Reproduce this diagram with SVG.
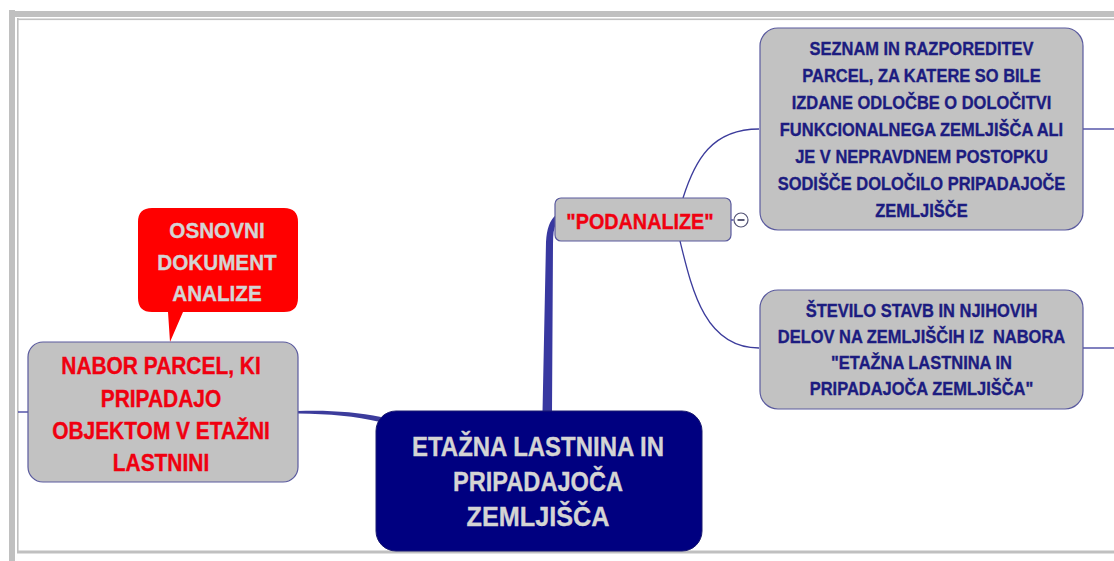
<svg xmlns="http://www.w3.org/2000/svg" width="1114" height="561" viewBox="0 0 1114 561">
<style>
.frame{fill:#c0c0c0}
.gray{fill:#c2c2c2;stroke:#5a5a9e;stroke-width:1.2}
.t{font-family:"Liberation Sans",Arial,sans-serif;font-weight:bold;text-anchor:middle;stroke-width:0.35}
.red{fill:#f00010;stroke:#f00010}
.navy{fill:#1c1c80;stroke:#1c1c80}
.light{fill:#d4d4d4;stroke:#d4d4d4}
.con{fill:none;stroke:#3c3c9c;stroke-width:1.3}
</style>
<rect width="1114" height="561" fill="#ffffff"/>
<g id="frame">
<rect class="frame" x="9" y="10" width="6" height="551"/>
<rect class="frame" x="15" y="11" width="1099" height="6"/>
<rect class="frame" x="17" y="18" width="1.6" height="534"/>
<rect class="frame" x="17" y="18.5" width="1097" height="1.6"/>
<rect class="frame" x="17" y="550.5" width="1097" height="3"/>
</g>
<g id="connectors">
<path class="con" d="M18,412 L28,412"/>
<path d="M298,411 C330,410 356,412 381,417 L380,422 C355,416 330,414 298,413.5 Z" fill="#3c3c9c"/>
<path d="M542.5,412 L546,242 Q547,222 556,215 L556,224 Q553,229 553,244 L552,412 Z" fill="#3838a0"/>
<path class="con" d="M683,198 C695,160 712,129 759,129"/>
<path class="con" d="M680,241 C692,290 705,348 759,348"/>
<path class="con" d="M1083,129 L1114,129"/>
<path class="con" d="M1083,348 L1114,348"/>
<path class="con" d="M731,220 L733.5,220"/>
</g>
<g id="callout">
<path d="M152,208 H284 Q298,208 298,222 V298 Q298,312 284,312 H183 L170,342 L168,312 H152 Q138,312 138,298 V222 Q138,208 152,208 Z" fill="#ff0000"/>
<g transform="matrix(0.94,0,0,1,13.02,0)">
<text class="t light" font-size="22" x="217" y="238">OSNOVNI</text>
<text class="t light" font-size="22" x="217" y="270">DOKUMENT</text>
<text class="t light" font-size="22" x="217" y="301">ANALIZE</text>
</g>
</g>
<g id="nabor">
<rect class="gray" x="28" y="342" width="270" height="140" rx="15"/>
<g transform="matrix(0.91,0,0,1,14.49,0)">
<text class="t red" font-size="23" x="161" y="374">NABOR PARCEL, KI</text>
<text class="t red" font-size="23" x="161" y="407">PRIPADAJO</text>
<text class="t red" font-size="23" x="161" y="439">OBJEKTOM V ETAŽNI</text>
<text class="t red" font-size="23" x="161" y="471">LASTNINI</text>
</g>
</g>
<g id="central">
<rect x="376" y="411" width="326" height="140" rx="20" fill="#000080" stroke="#1a1a70" stroke-width="1"/>
<text class="t light" font-size="27" x="538" y="456" textLength="252" lengthAdjust="spacingAndGlyphs">ETAŽNA LASTNINA IN</text>
<text class="t light" font-size="27" x="538" y="491" textLength="170" lengthAdjust="spacingAndGlyphs">PRIPADAJOČA</text>
<text class="t light" font-size="27" x="538" y="526" textLength="143" lengthAdjust="spacingAndGlyphs">ZEMLJIŠČA</text>
</g>
<g id="podanalize">
<rect class="gray" x="555" y="198" width="176" height="43" rx="6"/>
<text class="t red" font-size="22" x="640" y="229" transform="matrix(0.9,0,0,1,64,0)">"PODANALIZE"</text>
<circle cx="741" cy="220" r="7" fill="#ffffff" stroke="#555577" stroke-width="1.2"/>
<path d="M737.5,220 H744.5" stroke="#333355" stroke-width="1.6"/>
</g>
<g id="seznam">
<rect class="gray" x="760" y="28" width="323" height="202" rx="18"/>
<g transform="matrix(0.9,0,0,1,92.15,0)">
<text class="t navy" font-size="18.3" x="921.5" y="55">SEZNAM IN RAZPOREDITEV</text>
<text class="t navy" font-size="18.3" x="921.5" y="82">PARCEL, ZA KATERE SO BILE</text>
<text class="t navy" font-size="18.3" x="921.5" y="109">IZDANE ODLOČBE O DOLOČITVI</text>
<text class="t navy" font-size="18.3" x="921.5" y="136">FUNKCIONALNEGA ZEMLJIŠČA ALI</text>
<text class="t navy" font-size="18.3" x="921.5" y="163">JE V NEPRAVDNEM POSTOPKU</text>
<text class="t navy" font-size="18.3" x="921.5" y="190">SODIŠČE DOLOČILO PRIPADAJOČE</text>
<text class="t navy" font-size="18.3" x="921.5" y="217">ZEMLJIŠČE</text>
</g>
</g>
<g id="stevilo">
<rect class="gray" x="760" y="290" width="323" height="119" rx="18"/>
<g transform="matrix(0.9,0,0,1,92.15,0)">
<text class="t navy" font-size="18.3" x="921.5" y="317">ŠTEVILO STAVB IN NJIHOVIH</text>
<text class="t navy" font-size="18.3" x="921.5" y="343" style="white-space:pre">DELOV NA ZEMLJIŠČIH IZ  NABORA</text>
<text class="t navy" font-size="18.3" x="921.5" y="369">"ETAŽNA LASTNINA IN</text>
<text class="t navy" font-size="18.3" x="921.5" y="395">PRIPADAJOČA ZEMLJIŠČA"</text>
</g>
</g>
</svg>
